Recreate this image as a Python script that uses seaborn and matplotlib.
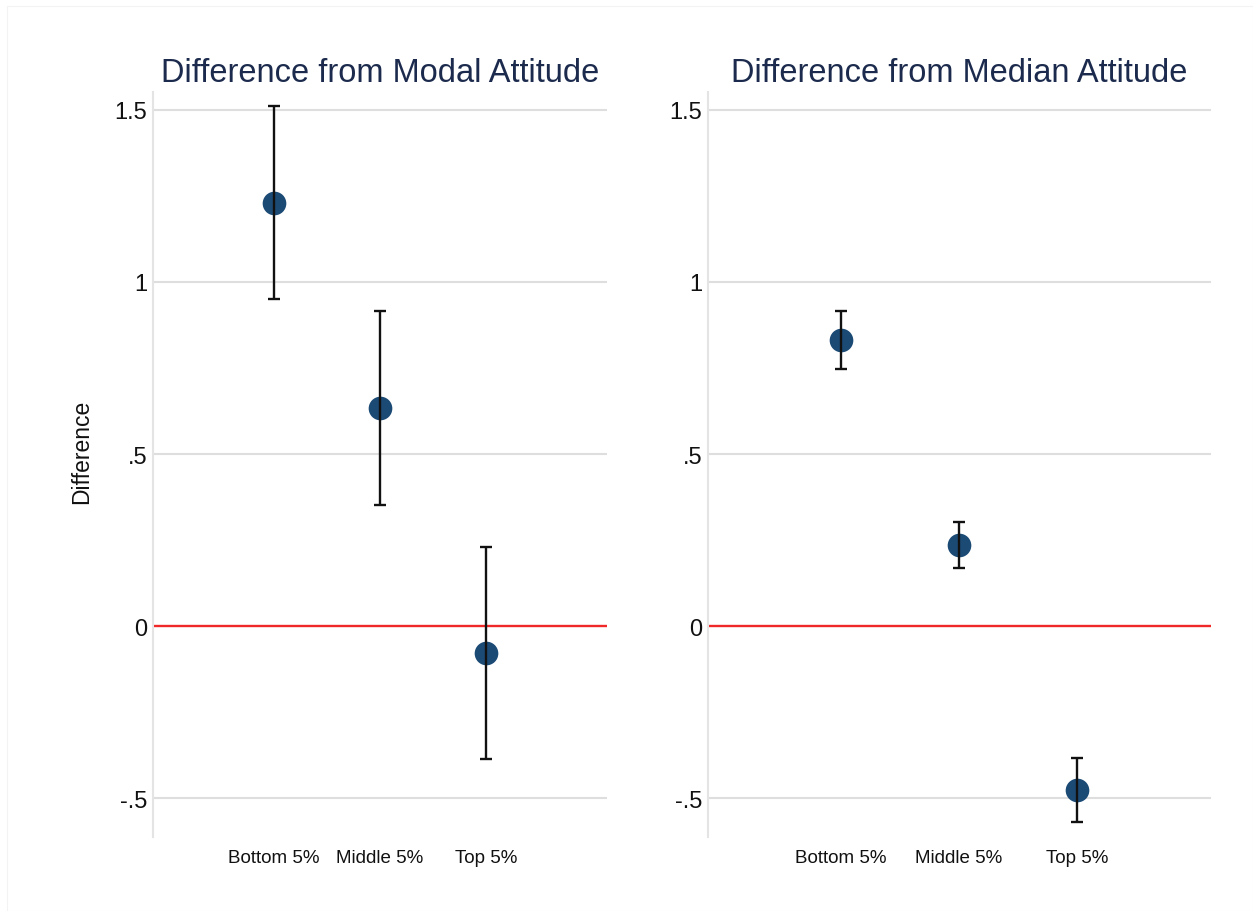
import numpy as np
import pandas as pd
import matplotlib
matplotlib.use("Agg")
import matplotlib.pyplot as plt
import seaborn as sns

# Groups and estimates with 95% confidence bounds
groups = ["Bottom 5%", "Middle 5%", "Top 5%"]

modal_est = [1.23, 0.634, -0.078]
modal_lo = [0.951, 0.352, -0.387]
modal_hi = [1.512, 0.916, 0.230]

median_est = [0.831, 0.235, -0.477]
median_lo = [0.747, 0.169, -0.570]
median_hi = [0.916, 0.302, -0.384]

titles = ["Difference from Modal Attitude", "Difference from Median Attitude"]
yticks = [-0.5, 0, 0.5, 1, 1.5]
yticklabels = ["-.5", "0", ".5", "1", "1.5"]

sns.set_theme(style="white")
plt.rcParams["font.family"] = ["Liberation Sans", "DejaVu Sans"]

fig = plt.figure(figsize=(12.53, 9.12), dpi=100)
fig.patch.set_facecolor("white")

W, H = 1253, 912
ax_left = fig.add_axes([153 / W, 1 - 838 / H, 454 / W, (838 - 93) / H])
ax_right = fig.add_axes([708 / W, 1 - 838 / H, 503 / W, (838 - 93) / H])

panels = [
    (ax_left, modal_est, modal_lo, modal_hi, titles[0], (-1.142, 3.142)),
    (ax_right, median_est, median_lo, median_hi, titles[1], (-1.127, 3.136)),
]

marker_color = "#1b4a75"
for ax, est, lo, hi, title, xlim in panels:
    df = pd.DataFrame({"group": groups, "estimate": est,
                       "lo": lo, "hi": hi})
    # reference grid and zero line
    for t in yticks:
        if t != 0:
            ax.axhline(t, color="#dedede", lw=1.5, zorder=0)
    ax.axhline(0, color="#f02828", lw=1.7, zorder=1)

    n_before = len(ax.lines)
    sns.pointplot(data=df, x="group", y="estimate", order=groups,
                  linestyle="none", errorbar=None, markers="o",
                  color=marker_color, markersize=15, ax=ax)
    for ln in ax.lines[n_before:]:
        ln.set_zorder(3)

    xpos = np.arange(len(groups))
    est_a = np.asarray(est)
    yerr = np.vstack([est_a - np.asarray(lo), np.asarray(hi) - est_a])
    eb = ax.errorbar(xpos, est_a, yerr=yerr, fmt="none", ecolor="#111111",
                     elinewidth=1.7, capsize=4, capthick=1.7)
    for art in eb.lines[1]:
        art.set_zorder(5)
    for art in eb.lines[2]:
        art.set_zorder(5)

    ax.set_xlim(*xlim)
    ax.set_ylim(-0.613, 1.552)
    ax.set_yticks(yticks)
    ax.set_yticklabels(yticklabels)
    ax.tick_params(axis="y", length=0, pad=4, labelsize=17,
                   labelcolor="#111111")
    ax.tick_params(axis="x", length=0, pad=9, labelsize=13.5,
                   labelcolor="#111111")
    ax.set_xlabel("")
    ax.set_ylabel("")
    ax.set_title(title, fontsize=23.5, color="#1c2b4d", pad=8)
    ax.grid(False)
    for side in ["top", "right", "bottom"]:
        ax.spines[side].set_visible(False)
    ax.spines["left"].set_color("#e4e4e4")
    ax.spines["left"].set_linewidth(1.5)

ax_left.set_ylabel("Difference", fontsize=16.5, color="#111111")
ax_left.yaxis.set_label_coords(-0.132, 0.518)

# faint outer frame
fig.add_artist(plt.Rectangle((7 / W, 0.0), 1 - 7 / W, 1 - 7 / H,
                             transform=fig.transFigure, fill=False,
                             edgecolor="#f3f3f3", lw=0.8))

fig.savefig("out.png", dpi=100, facecolor="white")
